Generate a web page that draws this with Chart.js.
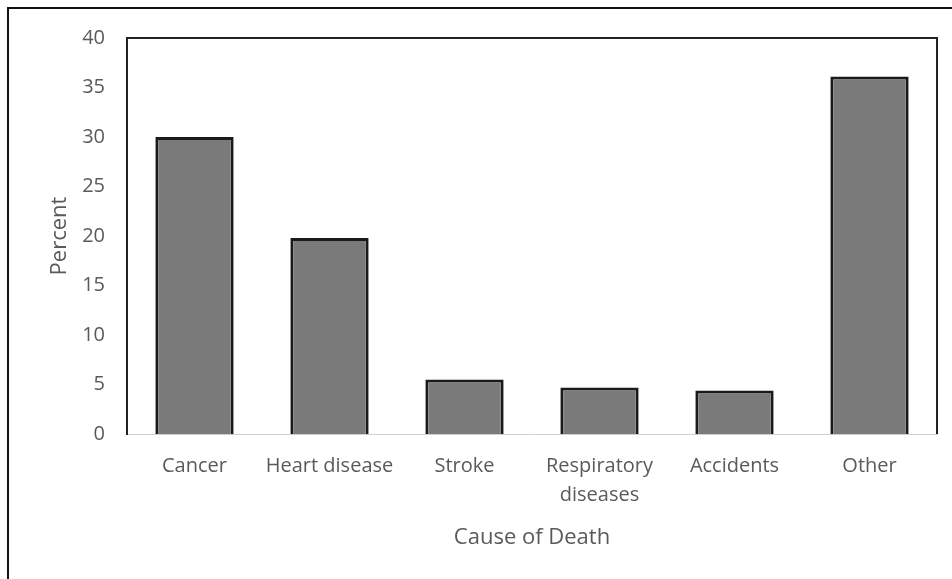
<!DOCTYPE html>
<html>
<head>
<meta charset="utf-8">
<script src="https://cdn.jsdelivr.net/npm/chart.js@4"></script>
<style>
  html, body { margin: 0; padding: 0; background: #fff; }
  #chart { display: block; }
</style>
</head>
<body>
<canvas id="chart" width="952" height="579"></canvas>
<script>
const causes = ['Cancer', 'Heart disease', 'Stroke', ['Respiratory', 'diseases'], 'Accidents', 'Other'];
const percents = [30, 19.8, 5.5, 4.7, 4.4, 36.1];
const yTicks = [0, 5, 10, 15, 20, 25, 30, 35, 40];

const textColor = '#5a5a5a';
const fontFamily = '"Open Sans", "Noto Sans", sans-serif';

// outer frame + top/right border of plot area
const frameLines = {
    id: 'frameLines',
    afterDraw(chart) {
        const ctx = chart.ctx;
        const area = chart.chartArea;
        ctx.save();
        ctx.strokeStyle = '#111';
        ctx.lineWidth = 2;
        ctx.beginPath();
        ctx.moveTo(8, 579);
        ctx.lineTo(8, 8);
        ctx.lineTo(952, 8);
        ctx.stroke();

        ctx.strokeStyle = '#222';
        ctx.beginPath();
        ctx.moveTo(area.left, area.top);
        ctx.lineTo(area.right, area.top);
        ctx.lineTo(area.right, area.bottom);
        ctx.stroke();
        ctx.restore();
    }
};

const ctx = document.getElementById('chart').getContext('2d');
new Chart(ctx, {
    type: 'bar',
    data: {
        labels: causes,
        datasets: [{
            data: percents,
            backgroundColor: '#7a7a7a',
            borderColor: '#1a1a1a',
            borderWidth: 3,
            borderSkipped: 'bottom',
            categoryPercentage: 1,
            barPercentage: 0.58
        }]
    },
    options: {
        responsive: false,
        animation: false,
        devicePixelRatio: 1,
        layout: {
            padding: { left: 8, top: 38, right: 15, bottom: 0 }
        },
        plugins: {
            legend: { display: false },
            tooltip: { enabled: false }
        },
        scales: {
            x: {
                grid: { display: false, drawTicks: false },
                border: { display: true, color: '#d0d0d0', width: 1 },
                ticks: {
                    color: textColor,
                    padding: 18,
                    maxRotation: 0,
                    autoSkip: false,
                    font: { family: fontFamily, size: 20, lineHeight: 1.45 }
                },
                title: {
                    display: true,
                    text: 'Cause of Death',
                    color: textColor,
                    padding: { top: 0, bottom: 28 },
                    font: { family: fontFamily, size: 22 }
                },
                afterFit(scale) { scale.height = 145; }
            },
            y: {
                min: 0,
                max: 40,
                afterBuildTicks(scale) {
                    scale.ticks = yTicks.map(v => ({ value: v }));
                },
                grid: { display: false, drawTicks: false },
                border: { display: true, color: '#222', width: 2 },
                ticks: {
                    color: textColor,
                    padding: 22,
                    font: { family: fontFamily, size: 20 }
                },
                title: {
                    display: true,
                    text: 'Percent',
                    color: textColor,
                    padding: { top: 39, bottom: 0 },
                    font: { family: fontFamily, size: 22 }
                },
                afterFit(scale) { scale.width = 119; }
            }
        }
    },
    plugins: [frameLines]
});
</script>
</body>
</html>
